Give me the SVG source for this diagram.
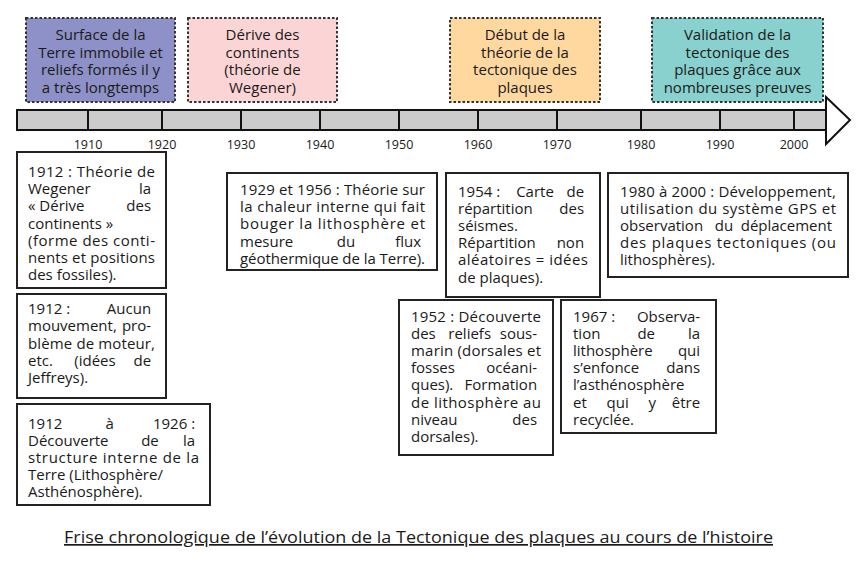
<svg xmlns="http://www.w3.org/2000/svg" width="862" height="578" viewBox="0 0 862 578">
<style>
.t{font-family:"Open Sans","Noto Sans",sans-serif;font-size:15px;fill:#1a1a1a}
.h{font-family:"Open Sans","Noto Sans",sans-serif;font-size:15px;fill:#1a1a1a;text-anchor:middle}
.y{font-family:"Open Sans","Noto Sans",sans-serif;font-size:12.5px;fill:#1a1a1a;text-anchor:middle}
.e{text-anchor:end}
.m{text-anchor:middle}
.box{fill:#fff;stroke:#222;stroke-width:2}
.top{stroke:#333;stroke-width:2;stroke-dasharray:2.5 2}
.tick{stroke:#111;stroke-width:2}
</style>

<g id="period-1">
<rect class="top" x="26" y="18" width="149" height="84" fill="#8e91c7"/>
<text class="h"><tspan x="100.5" y="40">Surface de la</tspan><tspan x="100.5" y="57.5">Terre immobile et</tspan><tspan x="100.5" y="75">reliefs formés il y</tspan><tspan x="100.5" y="92.5">a très longtemps</tspan></text>
</g>
<g id="period-2">
<rect class="top" x="188" y="18" width="149" height="84" fill="#fbd5d5"/>
<text class="h"><tspan x="262.5" y="40">Dérive des</tspan><tspan x="262.5" y="57.5">continents</tspan><tspan x="262.5" y="75">(théorie de</tspan><tspan x="262.5" y="92.5">Wegener)</tspan></text>
</g>
<g id="period-3">
<rect class="top" x="450" y="18" width="150" height="84" fill="#ffd8a0"/>
<text class="h"><tspan x="525" y="40">Début de la</tspan><tspan x="525" y="57.5">théorie de la</tspan><tspan x="525" y="75">tectonique des</tspan><tspan x="525" y="92.5">plaques</tspan></text>
</g>
<g id="period-4">
<rect class="top" x="652" y="18" width="171" height="84" fill="#88d1cf"/>
<text class="h"><tspan x="737.5" y="40">Validation de la</tspan><tspan x="737.5" y="57.5">tectonique des</tspan><tspan x="737.5" y="75">plaques grâce aux</tspan><tspan x="737.5" y="92.5">nombreuses preuves</tspan></text>
</g>

<g id="timeline">
<rect x="17" y="110" width="809" height="20" fill="#cccccc" stroke="#111" stroke-width="2"/>
<polygon points="826,97 850,120 826,144" fill="#fff" stroke="#111" stroke-width="2" stroke-linejoin="miter"/>
<line class="tick" x1="88" y1="110" x2="88" y2="130"/>
<line class="tick" x1="162" y1="110" x2="162" y2="130"/>
<line class="tick" x1="241" y1="110" x2="241" y2="130"/>
<line class="tick" x1="320" y1="110" x2="320" y2="130"/>
<line class="tick" x1="399" y1="110" x2="399" y2="130"/>
<line class="tick" x1="478" y1="110" x2="478" y2="130"/>
<line class="tick" x1="557" y1="110" x2="557" y2="130"/>
<line class="tick" x1="641" y1="110" x2="641" y2="130"/>
<line class="tick" x1="720" y1="110" x2="720" y2="130"/>
<line class="tick" x1="794" y1="110" x2="794" y2="130"/>
<text class="y" x="88" y="149">1910</text>
<text class="y" x="162" y="149">1920</text>
<text class="y" x="241" y="149">1930</text>
<text class="y" x="320" y="149">1940</text>
<text class="y" x="399" y="149">1950</text>
<text class="y" x="478" y="149">1960</text>
<text class="y" x="557" y="149">1970</text>
<text class="y" x="641" y="149">1980</text>
<text class="y" x="720" y="149">1990</text>
<text class="y" x="794" y="149">2000</text>
</g>

<g id="event-1912-wegener">
<rect class="box" x="17" y="152" width="149" height="136"/>
<text class="t">
<tspan x="28" y="177" textLength="127" lengthAdjust="spacing">1912 : Théorie de</tspan>
<tspan x="28" y="194.2">Wegener</tspan><tspan class="e" x="155" y="194.2">la</tspan>
<tspan x="28" y="211.4">« Dérive</tspan><tspan class="e" x="155" y="211.4">des</tspan>
<tspan x="28" y="228.6">continents »</tspan>
<tspan x="28" y="245.8" textLength="127" lengthAdjust="spacing">(forme des conti-</tspan>
<tspan x="28" y="263" textLength="127" lengthAdjust="spacing">nents et positions</tspan>
<tspan x="28" y="280.2">des fossiles).</tspan>
</text>
</g>

<g id="event-1912-jeffreys">
<rect class="box" x="17" y="294" width="149" height="104"/>
<text class="t">
<tspan x="28" y="314">1912 :</tspan><tspan class="e" x="155" y="314">Aucun</tspan>
<tspan x="28" y="331.3">mouvement,</tspan><tspan class="e" x="155" y="331.3">pro-</tspan>
<tspan x="28" y="348.6" textLength="127" lengthAdjust="spacing">blème de moteur,</tspan>
<tspan x="28" y="365.9">etc.</tspan><tspan class="m" x="95" y="365.9">(idées</tspan><tspan class="e" x="155" y="365.9">de</tspan>
<tspan x="28" y="383.2">Jeffreys).</tspan>
</text>
</g>

<g id="event-1912-1926">
<rect class="box" x="17" y="404" width="193" height="101"/>
<text class="t">
<tspan x="28" y="428.5">1912</tspan><tspan class="m" x="109.6" y="428.5">à</tspan><tspan class="e" x="199" y="428.5">1926 :</tspan>
<tspan x="28" y="445.7">Découverte</tspan><tspan class="m" x="150" y="445.7">de</tspan><tspan class="e" x="199" y="445.7">la</tspan>
<tspan x="28" y="462.9" textLength="171" lengthAdjust="spacing">structure interne de la</tspan>
<tspan x="28" y="480.1">Terre (Lithosphère/</tspan>
<tspan x="28" y="497.3">Asthénosphère).</tspan>
</text>
</g>

<g id="event-1929-1956">
<rect class="box" x="227" y="173" width="210" height="97"/>
<text class="t">
<tspan x="240" y="195" textLength="185" lengthAdjust="spacing">1929 et 1956 : Théorie sur</tspan>
<tspan x="240" y="212.2" textLength="185" lengthAdjust="spacing">la chaleur interne qui fait</tspan>
<tspan x="240" y="229.4" textLength="185" lengthAdjust="spacing">bouger la lithosphère et</tspan>
<tspan x="240" y="246.6">mesure</tspan><tspan class="m" x="346" y="246.6">du</tspan><tspan class="e" x="425" y="246.6">flux</tspan>
<tspan x="240" y="263.8" textLength="185" lengthAdjust="spacing">géothermique de la Terre).</tspan>
</text>
</g>

<g id="event-1954">
<rect class="box" x="446" y="173" width="154" height="124"/>
<text class="t">
<tspan x="458" y="196.5">1954 :</tspan><tspan class="m" x="535" y="196.5">Carte</tspan><tspan class="e" x="588" y="196.5">de</tspan>
<tspan x="458" y="213.7">répartition</tspan><tspan class="e" x="588" y="213.7">des</tspan>
<tspan x="458" y="230.9">séismes.</tspan>
<tspan x="458" y="248.1">Répartition</tspan><tspan class="e" x="588" y="248.1">non</tspan>
<tspan x="458" y="265.3" textLength="130" lengthAdjust="spacing">aléatoires = idées</tspan>
<tspan x="458" y="282.5">de plaques).</tspan>
</text>
</g>

<g id="event-1952">
<rect class="box" x="399" y="300" width="154" height="155"/>
<text class="t">
<tspan x="411" y="321.5" textLength="130" lengthAdjust="spacing">1952 : Découverte</tspan>
<tspan x="411" y="338.7">des</tspan><tspan class="m" x="469.7" y="338.7">reliefs</tspan><tspan class="e" x="541" y="338.7">sous-</tspan>
<tspan x="411" y="355.9" textLength="130" lengthAdjust="spacing">marin (dorsales et</tspan>
<tspan x="411" y="373.1">fosses</tspan><tspan class="e" x="541" y="373.1">océani-</tspan>
<tspan x="411" y="390.3">ques).</tspan><tspan class="e" x="541" y="390.3">Formation</tspan>
<tspan x="411" y="407.5" textLength="130" lengthAdjust="spacing">de lithosphère au</tspan>
<tspan x="411" y="424.7">niveau</tspan><tspan class="e" x="541" y="424.7">des</tspan>
<tspan x="411" y="441.9">dorsales).</tspan>
</text>
</g>

<g id="event-1967">
<rect class="box" x="561" y="300" width="155" height="133"/>
<text class="t">
<tspan x="573" y="321.5">1967 :</tspan><tspan class="e" x="704" y="321.5">Observa-</tspan>
<tspan x="573" y="338.7">tion</tspan><tspan class="m" x="646.2" y="338.7">de</tspan><tspan class="e" x="704" y="338.7">la</tspan>
<tspan x="573" y="355.9">lithosphère</tspan><tspan class="e" x="704" y="355.9">qui</tspan>
<tspan x="573" y="373.1">s’enfonce</tspan><tspan class="e" x="704" y="373.1">dans</tspan>
<tspan x="573" y="390.3">l’asthénosphère</tspan>
<tspan x="573" y="407.5">et</tspan><tspan class="m" x="617.6" y="407.5">qui</tspan><tspan class="m" x="652.3" y="407.5">y</tspan><tspan class="e" x="704" y="407.5">être</tspan>
<tspan x="573" y="424.7">recyclée.</tspan>
</text>
</g>

<g id="event-1980-2000">
<rect class="box" x="608" y="173" width="240" height="104"/>
<text class="t">
<tspan x="620" y="196.5" textLength="216" lengthAdjust="spacing">1980 à 2000 : Développement,</tspan>
<tspan x="620" y="213.7" textLength="216" lengthAdjust="spacing">utilisation du système GPS et</tspan>
<tspan x="620" y="230.9">observation</tspan><tspan class="m" x="724" y="230.9">du</tspan><tspan class="e" x="836" y="230.9">déplacement</tspan>
<tspan x="620" y="248.1" textLength="216" lengthAdjust="spacing">des plaques tectoniques (ou</tspan>
<tspan x="620" y="265.3">lithosphères).</tspan>
</text>
</g>

<g id="title">
<text class="t" x="64" y="543" style="font-size:17px;text-decoration:underline" textLength="709" lengthAdjust="spacingAndGlyphs">Frise chronologique de l’évolution de la Tectonique des plaques au cours de l’histoire</text>
</g>
</svg>
